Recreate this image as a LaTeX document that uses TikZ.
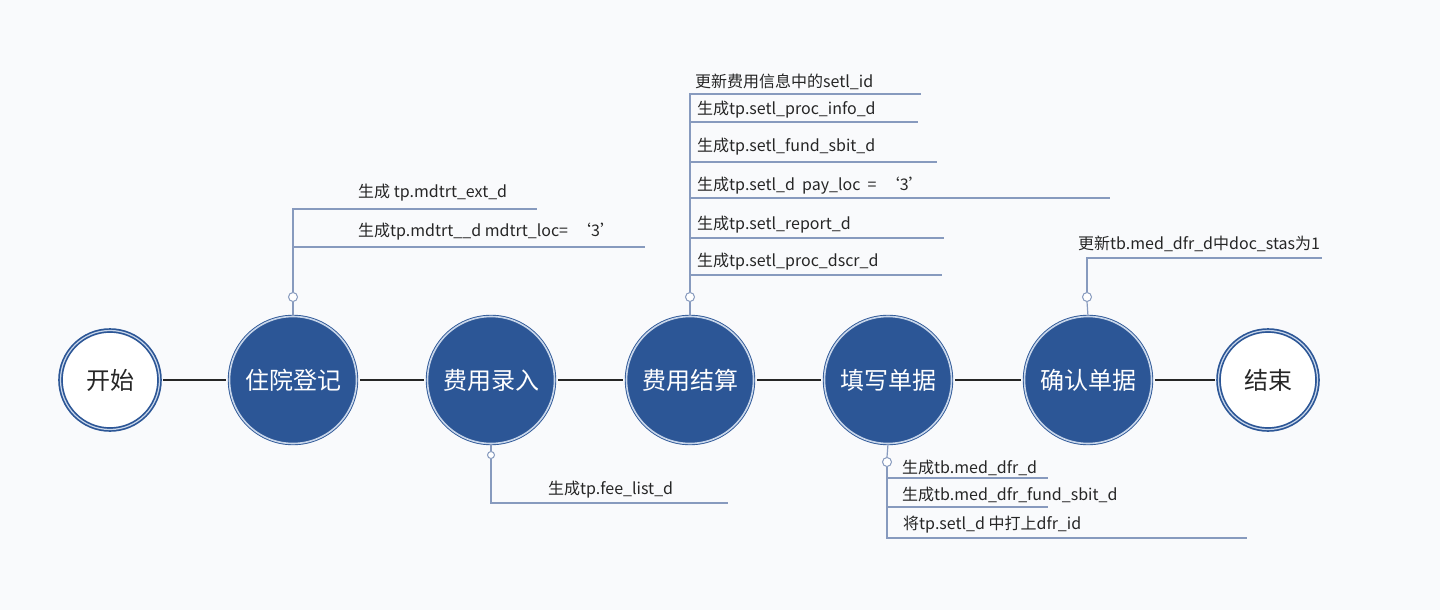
\documentclass[tikz,border=0pt]{standalone}
\usepackage{fontspec}
\setmainfont{Noto Sans CJK SC}
\definecolor{nodeblue}{RGB}{44,86,150}
\definecolor{ringlight}{RGB}{200,214,234}
\definecolor{annline}{RGB}{135,154,190}
\definecolor{bg}{RGB}{249,250,252}
\begin{document}
\begin{tikzpicture}[x=1pt,y=-1pt,
  main/.style={circle, fill=nodeblue, draw=nodeblue, double=ringlight, double distance=1.6pt, line width=0.9pt, minimum size=127pt, inner sep=0pt, text=white, font=\fontsize{24}{28}\selectfont},
  term/.style={circle, fill=white, draw=nodeblue, double=ringlight, double distance=1.2pt, line width=1.7pt, minimum size=99pt, inner sep=0pt, text=black!85, font=\fontsize{24}{28}\selectfont},
  link/.style={draw=black!85, line width=1.6pt, shorten >=3pt, shorten <=3pt},
  ann/.style={draw=annline, line width=1.2pt},
  dot/.style={circle, draw=annline, fill=white, line width=1pt, minimum size=9pt, inner sep=0pt},
  smalldot/.style={dot, minimum size=7pt},
  lbl/.style={anchor=west, inner sep=0pt, text=black!85, font=\fontsize{16}{19}\selectfont}]
\fill[bg] (0,0) rectangle (1440,610);
\useasboundingbox (0,0) rectangle (1440,610);

% main chain
\node[term] (start) at (110,380) {开始};
\node[main] (reg) at (293,380) {住院登记};
\node[main] (fee) at (491,380) {费用录入};
\node[main] (setl) at (690,380) {费用结算};
\node[main] (doc) at (888,380) {填写单据};
\node[main] (conf) at (1088,380) {确认单据};
\node[term] (fin) at (1268,380) {结束};
\draw[link] (start) -- (reg);
\draw[link] (reg) -- (fee);
\draw[link] (fee) -- (setl);
\draw[link] (setl) -- (doc);
\draw[link] (doc) -- (conf);
\draw[link] (conf) -- (fin);

% 住院登记 annotation
\node[dot] (regdot) at (293,297) {};
\coordinate (regtop) at (293,209);
\coordinate (regA) at (537,209);
\coordinate (regB0) at (293,247);
\coordinate (regB) at (645,247);
\draw[ann] (reg.north) -- (regdot.south);
\draw[ann] (regdot.north) -- (regtop) -- (regA);
\draw[ann] (regB0) -- (regB);
\node[lbl] (regt1) at (358,193) {生成 tp.mdtrt\_ext\_d};
\node[lbl] (regt2) at (358,232) {生成tp.mdtrt\_\_d mdtrt\_loc=\ \ ‘3’};

% 费用录入 annotation
\node[smalldot] (feedot) at (491,455) {};
\coordinate (feebot) at (491,503);
\coordinate (feeA) at (728,503);
\draw[ann] (fee.south) -- (feedot.north);
\draw[ann] (feedot.south) -- (feebot) -- (feeA);
\node[lbl] (feet1) at (548,490) {生成tp.fee\_list\_d};

% 费用结算 annotation
\node[dot] (setldot) at (690,297) {};
\coordinate (setltop) at (690,94);
\coordinate (sA) at (921,94);
\coordinate (sB0) at (690,122);
\coordinate (sB) at (918,122);
\coordinate (sC0) at (690,162);
\coordinate (sC) at (937,162);
\coordinate (sD0) at (690,198);
\coordinate (sD) at (1110,198);
\coordinate (sE0) at (690,238);
\coordinate (sE) at (944,238);
\coordinate (sF0) at (690,275);
\coordinate (sF) at (942,275);
\draw[ann] (setl.north) -- (setldot.south);
\draw[ann] (setldot.north) -- (setltop) -- (sA);
\draw[ann] (sB0) -- (sB);
\draw[ann] (sC0) -- (sC);
\draw[ann] (sD0) -- (sD);
\draw[ann] (sE0) -- (sE);
\draw[ann] (sF0) -- (sF);
\node[lbl] (st1) at (695,82) {更新费用信息中的setl\_id};
\node[lbl] (st2) at (697,110) {生成tp.setl\_proc\_info\_d};
\node[lbl] (st3) at (697,147) {生成tp.setl\_fund\_sbit\_d};
\node[lbl] (st4) at (697,186) {生成tp.setl\_d\ \ pay\_loc\ \ =\ \ ‘3’};
\node[lbl] (st5) at (697,225) {生成tp.setl\_report\_d};
\node[lbl] (st6) at (697,262) {生成tp.setl\_proc\_dscr\_d};

% 填写单据 annotation
\node[dot] (docdot) at (887,462) {};
\coordinate (docbot) at (887,538);
\coordinate (dA0) at (887,478);
\coordinate (dA) at (1048,478);
\coordinate (dB0) at (887,507);
\coordinate (dB) at (1048,507);
\coordinate (dC) at (1247,538);
\draw[ann] (doc.south) -- (docdot.north);
\draw[ann] (docdot.south) -- (docbot) -- (dC);
\draw[ann] (dA0) -- (dA);
\draw[ann] (dB0) -- (dB);
\node[lbl] (dt1) at (902,468) {生成tb.med\_dfr\_d};
\node[lbl] (dt2) at (902,495) {生成tb.med\_dfr\_fund\_sbit\_d};
\node[lbl] (dt3) at (903,525) {将tp.setl\_d 中打上dfr\_id};

% 确认单据 annotation
\node[dot] (confdot) at (1087,297) {};
\coordinate (conftop) at (1087,258);
\coordinate (cA) at (1322,258);
\draw[ann] (conf.north) -- (confdot.south);
\draw[ann] (confdot.north) -- (conftop) -- (cA);
\node[lbl] (ct1) at (1078,244) {更新tb.med\_dfr\_d中doc\_stas为1};
\end{tikzpicture}
\end{document}
